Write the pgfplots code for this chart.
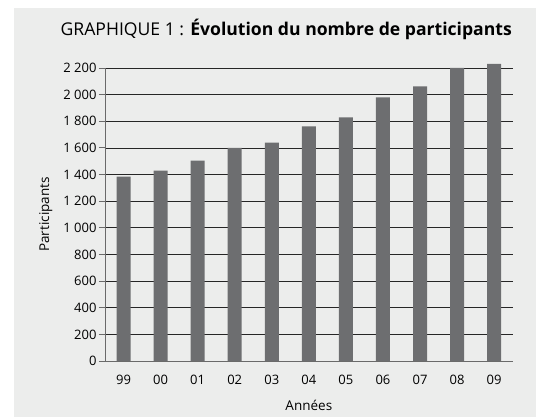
\documentclass[border=0pt]{standalone}
\usepackage{pgfplots}
\pgfplotsset{compat=1.18}
\usepackage{fontspec}
\setmainfont{Open Sans}
\definecolor{panel}{HTML}{ECEDEC}
\definecolor{barc}{HTML}{6D6E70}
\definecolor{axc}{HTML}{6A6A6A}
\begin{document}
\begin{tikzpicture}
\path[use as bounding box] (0pt,0pt) rectangle (536pt,417pt);
\fill[panel] (14pt,0pt) rectangle (536pt,409pt);
\node[anchor=base east,inner sep=0pt,font=\fontsize{17.6}{21}\selectfont] at (512pt,381pt)
  {GRAPHIQUE 1 : \textbf{Évolution du nombre de participants}};
\begin{axis}[
  at={(105pt,56pt)}, anchor=south west,
  scale only axis, width=407.7pt, height=293pt,
  ybar, bar width=14pt,
  xmin=-0.5, xmax=10.5, ymin=0, ymax=2200,
  xtick=data, xticklabels={99,00,01,02,03,04,05,06,07,08,09},
  ytick distance=200,
  axis x line=bottom, axis y line=left,
  axis line style={draw=axc, line width=0.9pt, -},
  xtick style={draw=none},
  ytick style={draw=axc, line width=0.9pt},
  tick align=outside, major tick length=6pt,
  ymajorgrids, grid style={draw=black!85, line width=0.7pt},
  /pgf/number format/assume math mode=true,
  /pgf/number format/1000 sep={\ },
  ticklabel style={font=\fontsize{13}{15}\selectfont},
  yticklabel style={xshift=1pt},
  xticklabel style={yshift=-5pt},
  xlabel={Années}, ylabel={Participants},
  label style={font=\fontsize{13.5}{16}\selectfont},
  xlabel style={yshift=-8pt},
  ylabel style={yshift=4pt},
  clip=false,
]
\addplot[fill=barc, draw=none] coordinates {
  (0,1385) (1,1430) (2,1505) (3,1600) (4,1640) (5,1762)
  (6,1830) (7,1980) (8,2062) (9,2200) (10,2230)};
\end{axis}
\end{tikzpicture}
\end{document}
